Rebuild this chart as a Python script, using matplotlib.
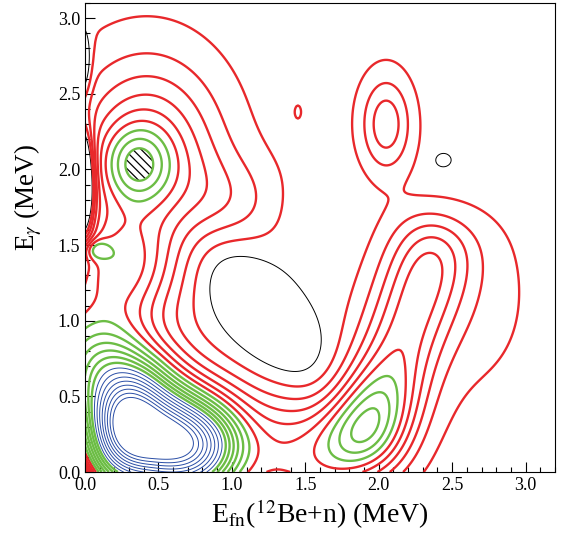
import numpy as np
import matplotlib.pyplot as plt
from matplotlib.ticker import MultipleLocator

# bumps / dips: centre, width along (+ / - side) and across,
# angle (deg), height, shape power
PK_X   = [0.35, 0.42, 0.95, 0.25, 0.48, 0.22, 0.75, 1.85, 2.15, 2.62, 2.05, 1.20, -0.02, -0.02, 0.07, 1.45, 2.44, 1.32, 1.58]
PK_Y   = [2.03, 2.10, 1.78, 1.35, 0.20, 0.55, 0.20, 0.25, 0.85, 1.15, 2.30, 1.05, 1.90, 2.70, 1.47, 2.38, 2.06, 0.10, 1.72]
PK_SA  = [0.16, 0.34, 0.28, 0.25, 0.41, 0.30, 0.25, 0.30, 0.75, 0.30, 0.12, 0.45, 0.05, 0.04, 0.07, 0.02, 0.06, 0.30, 0.18]
PK_SAL = [0.16, 0.34, 0.28, 0.25, 0.33, 0.40, 0.25, 0.30, 0.75, 0.30, 0.12, 0.45, 0.05, 0.04, 0.07, 0.02, 0.06, 0.30, 0.18]
PK_SB  = [0.17, 0.42, 0.22, 0.25, 0.25, 0.26, 0.15, 0.20, 0.20, 0.45, 0.22, 0.18, 0.22, 0.15, 0.05, 0.04, 0.05, 0.30, 0.20]
PK_ANG = [0, 0, 0, 0, -10, -50, 0, 55, 71, 0, 0, -50, 0, 0, 0, 0, 0, 0, 0]
PK_AMP = [4.0, 5.3, 1.6, 5.0, 18.0, 11.0, 2.0, 4.8, 4.8, 0.9, 3.2, -2.2, -10.0, -3.0, 2.5, 0.8, -0.9, 4.0, -0.45]
PK_POW = [1, 1, 1, 1, 1.5, 1, 1, 1, 3, 1, 1, 1, 1, 1, 1, 1, 1, 1, 1]
BASE = 1.5

LEV_BLACK = [1.0]
LEV_RED   = [2, 3, 4, 5, 6, 7]
LEV_GREEN = [8, 9, 10, 11, 12, 13]
LEV_BLUE  = [14, 15, 16, 17, 18, 19, 20, 21]
LEV_HATCH = 10.0

plt.rcParams['font.family'] = ['Liberation Serif', 'DejaVu Serif']
plt.rcParams['mathtext.fontset'] = 'stix'
plt.rcParams['hatch.color'] = 'black'
plt.rcParams['hatch.linewidth'] = 0.9

x = np.linspace(0, 3.2, 321)
y = np.linspace(0, 3.1, 311)
X, Y = np.meshgrid(x, y)
Z = np.full_like(X, BASE)
for cx, cy, sa, sal, sb, ang, amp, pw in zip(PK_X, PK_Y, PK_SA, PK_SAL, PK_SB,
                                             PK_ANG, PK_AMP, PK_POW):
    t = np.radians(ang)
    u = (X - cx) * np.cos(t) + (Y - cy) * np.sin(t)
    v = -(X - cx) * np.sin(t) + (Y - cy) * np.cos(t)
    su = np.where(u < 0, sal, sa)
    Z += amp * np.exp(-0.5 * np.abs(u / su) ** (2 * pw) - 0.5 * (v / sb) ** 2)
# threshold at the origin corner
Z *= 1 - np.exp(-X / 0.035 - Y / 0.05)

fig = plt.figure(figsize=(5.64, 5.37), dpi=100)
ax = fig.add_axes([0.1507, 0.121, 0.8333, 0.8734])

ax.contour(X, Y, Z, LEV_BLACK, colors='black', linewidths=0.7)
ax.contour(X, Y, Z, LEV_RED, colors='#e8282b', linewidths=1.7)
ax.contour(X, Y, Z, LEV_GREEN, colors='#6cbd45', linewidths=1.7)
ax.contour(X, Y, Z, LEV_BLUE, colors='#2a4ea6', linewidths=0.7)
Zh = np.ma.masked_where(Y < 1.5, Z)
ax.contourf(X, Y, Zh, [LEV_HATCH, 100], colors='none', hatches=['\\\\\\\\'])

ax.set_xlim(0, 3.2)
ax.set_ylim(0, 3.1)
ax.xaxis.set_major_locator(MultipleLocator(0.5))
ax.xaxis.set_minor_locator(MultipleLocator(0.1))
ax.yaxis.set_major_locator(MultipleLocator(0.5))
ax.yaxis.set_minor_locator(MultipleLocator(0.1))
ax.xaxis.set_major_formatter(lambda v, p: f"{v:.1f}")
ax.yaxis.set_major_formatter(lambda v, p: f"{v:.1f}")
ax.tick_params(which='both', direction='in', top=False, right=False, labelsize=13, width=0.8)
ax.tick_params(which='major', length=7)
ax.tick_params(which='minor', length=3.5)
for s in ax.spines.values():
    s.set_linewidth(0.8)

ax.set_xlabel(r"E$_{\rm fn}$($^{12}$Be+n) (MeV)", fontsize=20, labelpad=3)
ax.set_ylabel(r"E$_\gamma$ (MeV)", fontsize=19.5)
ax.yaxis.set_label_coords(-0.088, 0.585)

fig.savefig("out.png", dpi=100)
